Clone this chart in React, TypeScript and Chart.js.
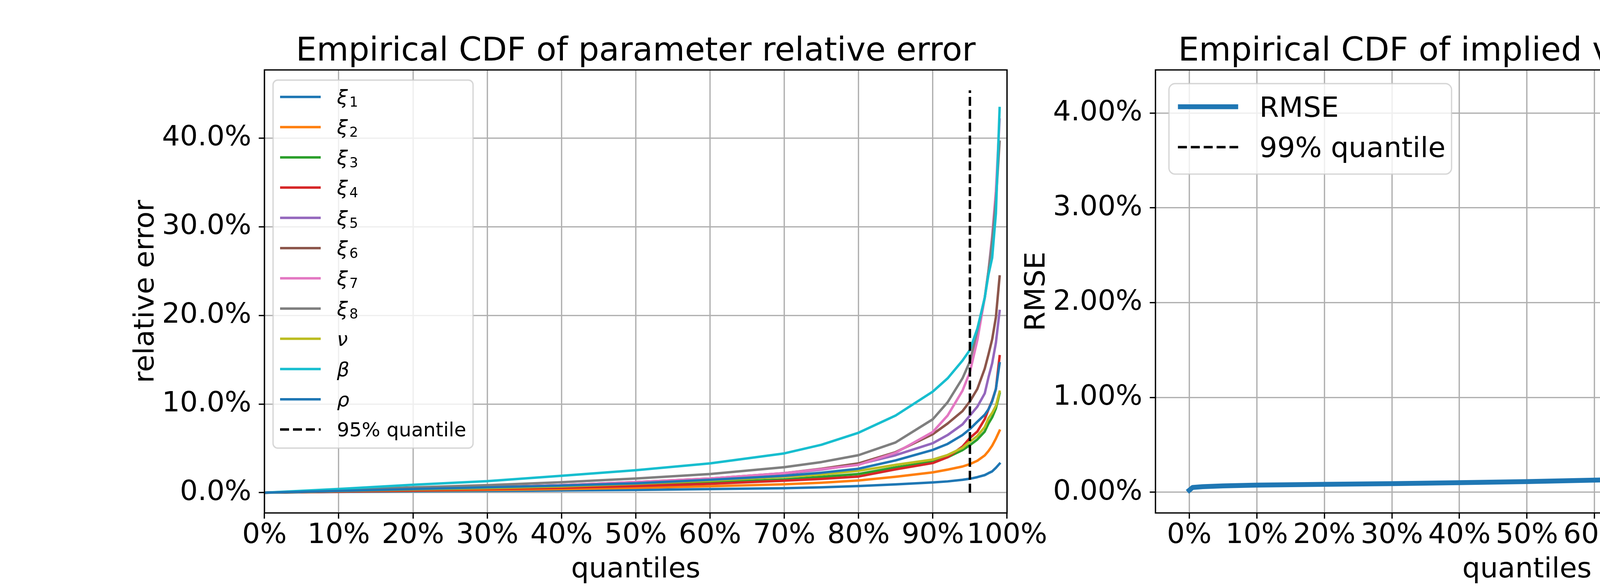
import React, { useEffect, useRef } from 'react';
import { Chart, registerables } from 'chart.js';

Chart.register(...registerables);

const FAMILY = '"DejaVu Sans"';
Chart.defaults.font.family = FAMILY;
Chart.defaults.color = '#000';

// ---------------- Left chart data (percent) ----------------
const quantilesLeft = [0, 10, 20, 30, 40, 50, 60, 70, 75, 80, 85, 90, 92, 94, 95, 96, 97, 97.5, 98, 98.5, 99];
const xi1 = [0, 0.08, 0.15, 0.2, 0.25, 0.3, 0.4, 0.5, 0.6, 0.75, 0.93, 1.15, 1.27, 1.45, 1.57, 1.75, 1.98, 2.2, 2.4, 2.8, 3.27];
const xi2 = [0, 0.12, 0.22, 0.3, 0.4, 0.55, 0.72, 0.95, 1.12, 1.37, 1.79, 2.29, 2.6, 2.95, 3.22, 3.6, 4.2, 4.7, 5.3, 6.1, 7.0];
const xi3 = [0, 0.15, 0.3, 0.45, 0.62, 0.85, 1.15, 1.5, 1.78, 2.1, 2.85, 3.5, 4.0, 4.8, 5.36, 6.0, 6.9, 7.8, 8.5, 9.5, 11.2];
const xi4 = [0, 0.12, 0.25, 0.4, 0.55, 0.75, 1.0, 1.35, 1.55, 1.82, 2.63, 3.34, 4.0, 5.2, 6.17, 6.9, 8.3, 9.4, 10.4, 11.7, 15.4];
const xi5 = [0, 0.2, 0.4, 0.6, 0.85, 1.15, 1.55, 2.15, 2.6, 3.2, 4.23, 5.58, 6.5, 7.7, 8.7, 9.7, 11.2, 13.0, 14.6, 16.9, 20.5];
const xi6 = [0, 0.2, 0.4, 0.6, 0.85, 1.2, 1.6, 2.2, 2.7, 3.3, 4.57, 6.6, 7.8, 9.2, 10.3, 11.7, 14.0, 15.6, 17.3, 19.8, 24.4];
const xi7 = [0, 0.2, 0.4, 0.6, 0.85, 1.2, 1.6, 2.2, 2.65, 3.14, 4.5, 6.85, 8.7, 11.5, 13.6, 17.2, 22.0, 25.0, 29.0, 34.0, 42.1];
const xi8 = [0, 0.3, 0.59, 0.84, 1.18, 1.6, 2.1, 2.87, 3.45, 4.23, 5.67, 8.28, 10.2, 12.9, 14.8, 18.3, 22.0, 25.0, 28.5, 33.0, 39.6];
const nu = [0, 0.17, 0.35, 0.5, 0.7, 1.0, 1.35, 1.8, 2.05, 2.46, 3.14, 3.73, 4.25, 5.05, 5.75, 6.4, 7.4, 8.4, 9.0, 9.8, 11.4];
const beta = [0, 0.42, 0.89, 1.3, 1.9, 2.53, 3.3, 4.43, 5.4, 6.76, 8.7, 11.4, 12.9, 14.9, 16.1, 18.5, 22.0, 24.6, 26.5, 31.5, 43.4];
const rho = [0, 0.2, 0.4, 0.6, 0.8, 1.05, 1.45, 1.9, 2.25, 2.7, 3.64, 4.82, 5.5, 6.5, 7.18, 8.0, 8.8, 9.4, 10.3, 11.7, 14.6];

const paramSeries = [xi1, xi2, xi3, xi4, xi5, xi6, xi7, xi8, nu, beta, rho];
const paramLabels = ['ξ_1', 'ξ_2', 'ξ_3', 'ξ_4', 'ξ_5', 'ξ_6', 'ξ_7', 'ξ_8', 'ν', 'β', 'ρ'];
const paramColors = ['#1f77b4', '#ff7f0e', '#2ca02c', '#d62728', '#9467bd', '#8c564b', '#e377c2', '#7f7f7f', '#bcbd22', '#17becf', '#1f77b4'];

const quantileLineLeft = 95;
const quantileLineLeftTop = 45.4;
const quantileLineLeftLabel = '95% quantile';

const xTicksLeft = [0, 10, 20, 30, 40, 50, 60, 70, 80, 90, 100];
const yTicksLeft = [0, 10, 20, 30, 40];

// ---------------- Right chart data (percent) ----------------
const quantilesRight = [0, 0.5, 2, 5, 10, 20, 30, 40, 50, 60, 70, 80, 85, 90, 93, 95, 96, 97.5, 98.5, 99, 99.7, 100];
const rmse = [0.02, 0.05, 0.058, 0.066, 0.075, 0.083, 0.09, 0.1, 0.112, 0.127, 0.143, 0.163, 0.178, 0.195, 0.215, 0.235, 0.25, 0.28, 0.305, 0.345, 0.39, 4.06];

const quantileLineRight = 99;
const quantileLineRightTop = 4.235;
const quantileLineRightLabel = '99% quantile';

const xTicksRight = [0, 10, 20, 30, 40, 50, 60, 70, 80, 90, 100];
const yTicksRight = [0, 1, 2, 3, 4];

// ---------------- styling ----------------
const TICK_SIZE = 72;
const GRID_W = 3.33;
const SPINE_W = 3.33;
const TICK_LEN = 14.6;

function drawLegendLabel(ctx: CanvasRenderingContext2D, label: string, x: number, baseline: number, size: number) {
  const greek = /^[\u03b1-\u03c9]/.test(label);
  ctx.fillStyle = '#000';
  ctx.textAlign = 'left';
  ctx.textBaseline = 'alphabetic';
  if (greek) {
    const parts = label.split('_');
    ctx.font = `italic ${size}px ${FAMILY}`;
    ctx.fillText(parts[0], x, baseline);
    if (parts[1]) {
      const w = ctx.measureText(parts[0]).width;
      ctx.font = `${size * 0.7}px ${FAMILY}`;
      ctx.fillText(parts[1], x + w + size * 0.08, baseline + size * 0.14);
    }
  } else {
    ctx.font = `${size}px ${FAMILY}`;
    ctx.fillText(label, x, baseline);
  }
}

function roundRectPath(ctx: CanvasRenderingContext2D, x: number, y: number, w: number, h: number, r: number) {
  ctx.beginPath();
  ctx.moveTo(x + r, y);
  ctx.lineTo(x + w - r, y);
  ctx.arcTo(x + w, y, x + w, y + r, r);
  ctx.lineTo(x + w, y + h - r);
  ctx.arcTo(x + w, y + h, x + w - r, y + h, r);
  ctx.lineTo(x + r, y + h);
  ctx.arcTo(x, y + h, x, y + h - r, r);
  ctx.lineTo(x, y + r);
  ctx.arcTo(x, y, x + r, y, r);
  ctx.closePath();
}

function makeDecor(cfg: any) {
  return {
    id: 'decor',
    afterDatasetsDraw(chart: any) {
      const { ctx, chartArea: a } = chart;
      ctx.save();
      ctx.strokeStyle = '#000';
      ctx.lineWidth = SPINE_W;
      ctx.setLineDash([]);
      ctx.strokeRect(a.left, a.top, a.right - a.left, a.bottom - a.top);
      ctx.restore();
    },
    afterDraw(chart: any) {
      const { ctx, chartArea: a } = chart;
      ctx.save();
      ctx.fillStyle = '#000';
      ctx.font = `${cfg.titleSize}px ${FAMILY}`;
      ctx.textAlign = 'center';
      ctx.textBaseline = 'alphabetic';
      ctx.fillText(cfg.title, (a.left + a.right) / 2, cfg.titleBaseline);
      const L = cfg.legend;
      roundRectPath(ctx, L.x, L.y, L.w, L.h, L.r);
      ctx.fillStyle = 'rgba(255,255,255,0.8)';
      ctx.fill();
      ctx.strokeStyle = 'rgba(204,204,204,0.8)';
      ctx.lineWidth = 3.33;
      ctx.stroke();
      chart.data.datasets.forEach((ds: any, i: number) => {
        const cy = L.firstY + i * L.step;
        ctx.beginPath();
        ctx.strokeStyle = ds.borderColor;
        ctx.lineWidth = ds.borderWidth;
        ctx.setLineDash(ds.borderDash || []);
        ctx.lineCap = 'butt';
        ctx.moveTo(L.hx1, cy);
        ctx.lineTo(L.hx2, cy);
        ctx.stroke();
        ctx.setLineDash([]);
        drawLegendLabel(ctx, ds.label, L.tx, cy + L.baseOff, L.fontSize);
      });
      ctx.restore();
    },
  };
}

function axisCommon(ticksArr: number[], fmt: (v: number) => string, pad: number) {
  return {
    type: 'linear',
    afterBuildTicks: (s: any) => {
      s.ticks = ticksArr.map((v) => ({ value: v }));
    },
    ticks: {
      callback: (v: any) => fmt(Number(v)),
      font: { family: FAMILY, size: TICK_SIZE, lineHeight: 1 },
      color: '#000',
      padding: pad,
      autoSkip: false,
      maxRotation: 0,
      minRotation: 0,
    },
    grid: {
      color: '#b0b0b0',
      lineWidth: GRID_W,
      tickColor: '#000',
      tickWidth: SPINE_W,
      tickLength: TICK_LEN,
      drawTicks: true,
    },
    border: { display: false },
  };
}

function leftConfig(): any {
  const datasets: any[] = paramSeries.map((vals, i) => ({
    label: paramLabels[i],
    data: quantilesLeft.map((q, j) => ({ x: q, y: vals[j] })),
    borderColor: paramColors[i],
    borderWidth: 6.25,
    pointRadius: 0,
    borderCapStyle: 'square',
    borderJoinStyle: 'round',
    tension: 0,
    clip: 0,
    order: 100 - i,
  }));
  datasets.push({
    label: quantileLineLeftLabel,
    data: [
      { x: quantileLineLeft, y: 0 },
      { x: quantileLineLeft, y: quantileLineLeftTop },
    ],
    borderColor: '#000',
    borderWidth: 6.25,
    borderDash: [23, 10],
    borderCapStyle: 'butt',
    pointRadius: 0,
    clip: 0,
    order: 0,
  });
  return {
    type: 'line',
    data: { datasets },
    options: {
      animation: false,
      responsive: false,
      maintainAspectRatio: false,
      devicePixelRatio: 1,
      layout: { padding: { left: 0, top: 179, right: 142, bottom: 0 } },
      plugins: { legend: { display: false }, title: { display: false }, tooltip: { enabled: false } },
      scales: {
        x: {
          ...axisCommon(xTicksLeft, (v) => `${Math.round(v)}%`, 8),
          min: 0,
          max: 100,
          afterFit: (s: any) => {
            s.height = 187;
          },
          title: {
            display: true,
            text: 'quantiles',
            color: '#000',
            font: { family: FAMILY, size: TICK_SIZE, lineHeight: 1 },
            padding: { top: 0, bottom: 5 },
          },
        },
        y: {
          ...axisCommon(yTicksLeft, (v) => `${v.toFixed(1)}%`, 19),
          min: -2.29,
          max: 47.7,
          afterFit: (s: any) => {
            s.width = 677;
          },
          title: {
            display: true,
            text: 'relative error',
            color: '#000',
            font: { family: FAMILY, size: TICK_SIZE, lineHeight: 1 },
            padding: { top: 338.6, bottom: 0 },
          },
        },
      },
    },
    plugins: [
      makeDecor({
        title: 'Empirical CDF of parameter relative error',
        titleSize: 84,
        titleBaseline: 155,
        legend: { x: 699, y: 205, w: 512, h: 942, r: 12, firstY: 248, step: 77.4, hx1: 717, hx2: 821, tx: 862.5, baseOff: 18, fontSize: 50 },
      }),
    ],
  };
}

function rightConfig(): any {
  const datasets: any[] = [
    {
      label: 'RMSE',
      data: quantilesRight.map((q, j) => ({ x: q, y: rmse[j] })),
      borderColor: '#1f77b4',
      borderWidth: 12.5,
      pointRadius: 0,
      borderCapStyle: 'square',
      borderJoinStyle: 'round',
      tension: 0,
      clip: 0,
      order: 10,
    },
    {
      label: quantileLineRightLabel,
      data: [
        { x: quantileLineRight, y: 0 },
        { x: quantileLineRight, y: quantileLineRightTop },
      ],
      borderColor: '#000',
      borderWidth: 6.25,
      borderDash: [23, 10],
      borderCapStyle: 'butt',
      pointRadius: 0,
      clip: 0,
      order: 0,
    },
  ];
  return {
    type: 'line',
    data: { datasets },
    options: {
      animation: false,
      responsive: false,
      maintainAspectRatio: false,
      devicePixelRatio: 1,
      layout: { padding: { left: 0, top: 179, right: 540, bottom: 0 } },
      plugins: { legend: { display: false }, title: { display: false }, tooltip: { enabled: false } },
      scales: {
        x: {
          ...axisCommon(xTicksRight, (v) => `${Math.round(v)}%`, 8),
          min: -5,
          max: 105,
          afterFit: (s: any) => {
            s.height = 187;
          },
          title: {
            display: true,
            text: 'quantiles',
            color: '#000',
            font: { family: FAMILY, size: TICK_SIZE, lineHeight: 1 },
            padding: { top: 0, bottom: 5 },
          },
        },
        y: {
          ...axisCommon(yTicksRight, (v) => `${v.toFixed(2)}%`, 19),
          min: -0.219,
          max: 4.455,
          afterFit: (s: any) => {
            s.width = 478;
          },
          title: {
            display: true,
            text: 'RMSE',
            color: '#000',
            font: { family: FAMILY, size: TICK_SIZE, lineHeight: 1 },
            padding: { top: 139, bottom: 0 },
          },
        },
      },
    },
    plugins: [
      makeDecor({
        title: 'Empirical CDF of implied vol surface RMSE',
        titleSize: 84,
        titleBaseline: 155,
        legend: { x: 512.5, y: 214, w: 723.5, h: 231.7, r: 16, firstY: 273.3, step: 103.4, hx1: 535.5, hx2: 689.7, tx: 744, baseOff: 25.5, fontSize: 72 },
      }),
    ],
  };
}

export default function App() {
  const leftRef = useRef<HTMLCanvasElement>(null);
  const rightRef = useRef<HTMLCanvasElement>(null);
  useEffect(() => {
    const c1 = new Chart(leftRef.current as HTMLCanvasElement, leftConfig());
    const c2 = new Chart(rightRef.current as HTMLCanvasElement, rightConfig());
    return () => {
      c1.destroy();
      c2.destroy();
    };
  }, []);
  return (
    <div style={{ position: 'absolute', left: 0, top: 0, width: 5400, height: 1500, background: '#fff', overflow: 'hidden' }}>
      <canvas ref={leftRef} width={2720} height={1500} style={{ position: 'absolute', left: 0, top: 0, width: 2720, height: 1500 }} />
      <canvas ref={rightRef} width={2920} height={1500} style={{ position: 'absolute', left: 2480, top: 0, width: 2920, height: 1500 }} />
    </div>
  );
}
